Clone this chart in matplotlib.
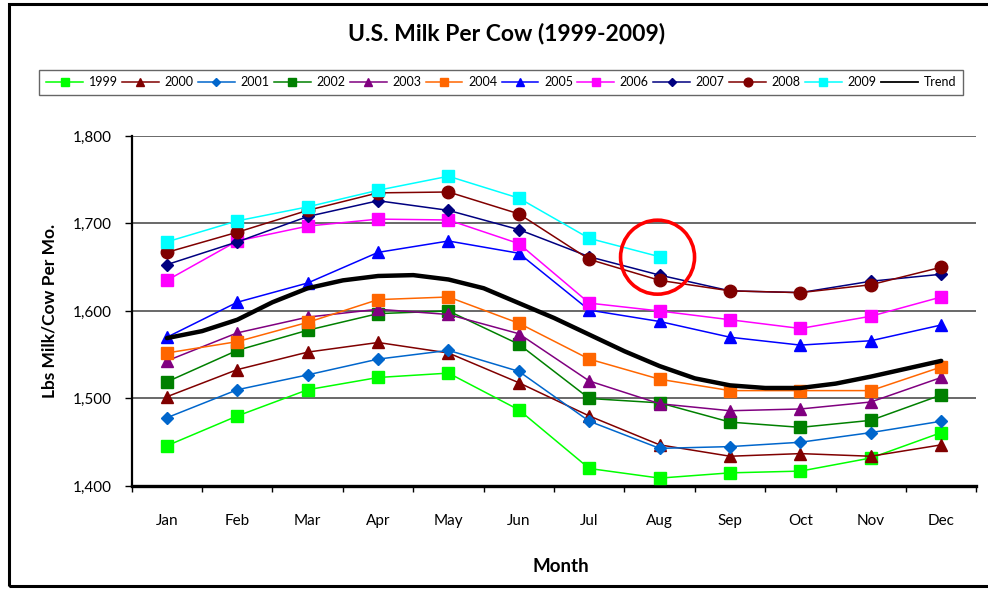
import matplotlib
matplotlib.use("Agg")
import matplotlib.pyplot as plt
from matplotlib.lines import Line2D
from matplotlib.patches import Ellipse, Rectangle
import numpy as np

plt.rcParams["font.family"] = ["Lato", "DejaVu Sans"]

months = ["Jan", "Feb", "Mar", "Apr", "May", "Jun",
          "Jul", "Aug", "Sep", "Oct", "Nov", "Dec"]

milk_1999 = [1446, 1480, 1510, 1524, 1529, 1487, 1420, 1409, 1415, 1417, 1432, 1461]
milk_2000 = [1502, 1533, 1553, 1564, 1552, 1518, 1480, 1447, 1434, 1437, 1434, 1447]
milk_2001 = [1478, 1510, 1527, 1545, 1555, 1531, 1474, 1443, 1445, 1450, 1461, 1474]
milk_2002 = [1519, 1555, 1578, 1597, 1600, 1562, 1500, 1495, 1473, 1467, 1475, 1504]
milk_2003 = [1543, 1575, 1593, 1602, 1596, 1574, 1520, 1494, 1486, 1488, 1496, 1524]
milk_2004 = [1552, 1565, 1587, 1613, 1616, 1586, 1545, 1522, 1509, 1509, 1509, 1536]
milk_2005 = [1570, 1610, 1632, 1667, 1680, 1666, 1601, 1588, 1570, 1561, 1566, 1584]
milk_2006 = [1635, 1680, 1697, 1705, 1704, 1677, 1609, 1600, 1590, 1580, 1594, 1616]
milk_2007 = [1653, 1679, 1708, 1726, 1715, 1693, 1662, 1641, 1623, 1621, 1634, 1642]
milk_2008 = [1667, 1690, 1715, 1735, 1736, 1711, 1659, 1635, 1623, 1621, 1630, 1650]
milk_2009 = [1679, 1703, 1719, 1738, 1754, 1729, 1683, 1662]  # data ends in Aug

trend_x = [0, 0.5, 1, 1.5, 2, 2.5, 3, 3.5, 4, 4.5, 5, 5.5,
           6, 6.5, 7, 7.5, 8, 8.5, 9, 9.5, 10, 10.5, 11]
trend_y = [1569, 1577, 1590, 1610, 1626, 1635, 1640, 1641, 1636, 1626, 1609, 1592,
           1573, 1554, 1537, 1523, 1515, 1512, 1512, 1517, 1525, 1534, 1543]

series = [
    ("1999", milk_1999, "#00FF00", "s", 8.5),
    ("2000", milk_2000, "#800000", "^", 9),
    ("2001", milk_2001, "#0066CC", "D", 6.5),
    ("2002", milk_2002, "#008000", "s", 8.5),
    ("2003", milk_2003, "#800080", "^", 9),
    ("2004", milk_2004, "#FF6600", "s", 8.5),
    ("2005", milk_2005, "#0000FF", "^", 9),
    ("2006", milk_2006, "#FF00FF", "s", 8.5),
    ("2007", milk_2007, "#000080", "D", 6.5),
    ("2008", milk_2008, "#800000", "o", 9),
    ("2009", milk_2009, "#00FFFF", "s", 8.5),
]

fig = plt.figure(figsize=(9.88, 5.9), dpi=100)
ax = fig.add_axes([0.1333, 0.1763, 0.855, 0.5932])

# outer chart border
fig.patches.append(Rectangle((9 / 988, 4 / 590), 990 / 988, 582 / 590,
                             transform=fig.transFigure, fill=False,
                             edgecolor="black", linewidth=2.2))

handles = []
for label, vals, color, marker, ms in series:
    x = np.arange(len(vals))
    h, = ax.plot(x, vals, color=color, marker=marker, markersize=ms,
                 linewidth=1.1, label=label, zorder=3)
    handles.append(h)

ax.plot(trend_x, trend_y, color="black", linewidth=3.2,
        solid_capstyle="round", zorder=4)
# legend shows the trend as a thin line
handles.append(Line2D([], [], color="black", linewidth=1.3, label="Trend"))

# highlight circle around the August 2009 point
ax.add_patch(Ellipse((6.97, 1661.5), 74 / 70.4, 74 / 0.875, fill=False,
                     edgecolor="#FF0000", linewidth=2.6, zorder=5))

ax.set_xlim(-0.5, 11.5)
ax.set_ylim(1400, 1800)
ax.set_yticks([1400, 1500, 1600, 1700, 1800])
ax.set_yticklabels(["1,400", "1,500", "1,600", "1,700", "1,800"])
ax.set_xticks(np.arange(12))
ax.set_xticklabels(months)
ax.set_xticks(np.arange(-0.5, 12, 1), minor=True)
ax.tick_params(axis="x", which="major", length=0, pad=20, labelsize=11)
ax.tick_params(axis="x", which="minor", length=4, width=1, direction="out")
ax.tick_params(axis="y", length=5, width=1, pad=9, labelsize=11)

ax.grid(axis="y", color="#404040", linewidth=1.1)
ax.set_axisbelow(True)
for side in ("top", "right"):
    ax.spines[side].set_visible(False)
ax.spines["left"].set_linewidth(1.6)
ax.spines["bottom"].set_linewidth(2.4)

ax.set_ylabel("Lbs Milk/Cow Per Mo.", fontsize=12.5, fontweight="bold", labelpad=11)
fig.text(561 / 988, 1 - 567 / 590, "Month", fontsize=13.5, fontweight="bold",
         ha="center", va="center")
fig.text(507 / 988, 1 - 33 / 590, "U.S. Milk Per Cow (1999-2009)", fontsize=16.5,
         fontweight="bold", ha="center", va="center")

leg = fig.legend(handles=handles, loc="center", ncol=12,
                 bbox_to_anchor=(501 / 988, 1 - 82.5 / 590),
                 fontsize=9, handlelength=2.95, handletextpad=0.45,
                 columnspacing=0.35, borderpad=0.55, fancybox=False,
                 frameon=True, edgecolor="#404040", markerscale=0.7)
leg.get_frame().set_linewidth(1.0)

fig.savefig("out.png", dpi=100)
